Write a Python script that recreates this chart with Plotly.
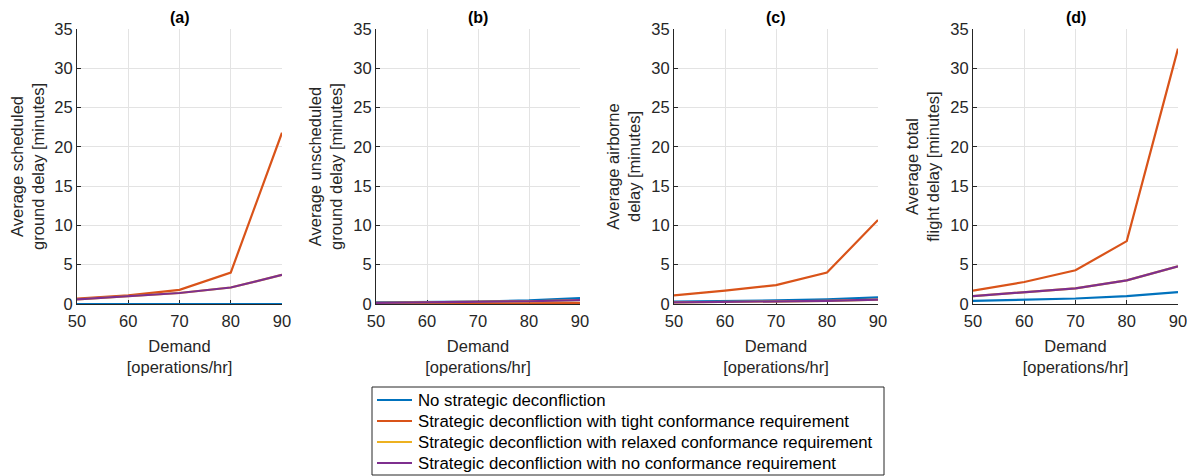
import plotly.graph_objects as go

demand = [50, 60, 70, 80, 90]
series_names = [
    "No strategic deconfliction",
    "Strategic deconfliction with tight conformance requirement",
    "Strategic deconfliction with relaxed conformance requirement",
    "Strategic deconfliction with no conformance requirement",
]
colors = ["#0072BD", "#D95319", "#EDB120", "#7E2F8E"]

# (a) scheduled ground delay
a_none = [0.0, 0.0, 0.0, 0.0, 0.0]
a_tight = [0.7, 1.1, 1.8, 4.0, 21.8]
a_relaxed = [0.6, 1.0, 1.4, 2.1, 3.7]
a_noconf = [0.6, 1.0, 1.4, 2.1, 3.7]
# (b) unscheduled ground delay
b_none = [0.2, 0.25, 0.3, 0.45, 0.75]
b_tight = [0.05, 0.05, 0.05, 0.1, 0.1]
b_relaxed = [0.15, 0.2, 0.25, 0.35, 0.5]
b_noconf = [0.15, 0.2, 0.25, 0.35, 0.5]
# (c) airborne delay
c_none = [0.3, 0.35, 0.45, 0.6, 0.85]
c_tight = [1.1, 1.7, 2.4, 4.0, 10.7]
c_relaxed = [0.2, 0.25, 0.3, 0.4, 0.55]
c_noconf = [0.2, 0.25, 0.3, 0.4, 0.55]
# (d) total flight delay
d_none = [0.4, 0.55, 0.7, 1.0, 1.5]
d_tight = [1.7, 2.8, 4.3, 8.0, 32.5]
d_relaxed = [1.0, 1.5, 2.0, 3.0, 4.8]
d_noconf = [1.0, 1.5, 2.0, 3.0, 4.8]

panel_titles = ["(a)", "(b)", "(c)", "(d)"]
y_titles = [
    "Average scheduled<br>ground delay [minutes]",
    "Average unscheduled<br>ground delay [minutes]",
    "Average airborne<br>delay [minutes]",
    "Average total<br>flight delay [minutes]",
]
x_title = "Demand<br>[operations/hr]"
x_ticks = [50, 60, 70, 80, 90]
y_ticks = [0, 5, 10, 15, 20, 25, 30, 35]

panels = [
    [a_none, a_tight, a_relaxed, a_noconf],
    [b_none, b_tight, b_relaxed, b_noconf],
    [c_none, c_tight, c_relaxed, c_noconf],
    [d_none, d_tight, d_relaxed, d_noconf],
]

# page body has an 8px margin; work in window pixels then shift
OFF = 8
W, H = 1195 - OFF, 476 - OFF
x_px = [(77, 282), (376, 580), (674, 878), (973, 1178)]
y_px = (29, 304)


def px(x):
    return (x - OFF) / W


def py(y):
    return 1 - (y - OFF) / H


FONT = "Liberation Sans, Arial, Helvetica, sans-serif"
fig = go.Figure()
layout = dict(
    width=W, height=H,
    margin=dict(l=0, r=0, t=0, b=0, autoexpand=False),
    paper_bgcolor="white", plot_bgcolor="white",
    font=dict(family=FONT, color="#262626", size=16),
    showlegend=False,
)
annotations = []
shapes = []
for i, data in enumerate(panels):
    xa = "x" if i == 0 else f"x{i+1}"
    ya = "y" if i == 0 else f"y{i+1}"
    for j, vals in enumerate(data):
        fig.add_trace(go.Scatter(
            x=demand, y=vals, mode="lines",
            line=dict(color=colors[j], width=2.2),
            name=series_names[j], legendgroup=series_names[j],
            showlegend=False, xaxis=xa, yaxis=ya, cliponaxis=False,
        ))
    x0, x1 = x_px[i]
    key_x = "xaxis" if i == 0 else f"xaxis{i+1}"
    key_y = "yaxis" if i == 0 else f"yaxis{i+1}"
    layout[key_x] = dict(
        domain=[px(x0), px(x1)], anchor=ya, range=[50, 90],
        tickvals=x_ticks, showgrid=True, gridcolor="#e3e3e3",
        showline=True, linecolor="#262626", linewidth=1,
        ticks="inside", ticklen=4, tickcolor="#262626",
        tickfont=dict(size=16.5), zeroline=False, automargin=False,
        ticklabelstandoff=2, layer="below traces",
        title=dict(text=x_title, font=dict(size=16.5), standoff=11),
    )
    layout[key_y] = dict(
        domain=[py(y_px[1]), py(y_px[0])], anchor=xa, range=[0, 35],
        tickvals=y_ticks, showgrid=True, gridcolor="#e3e3e3",
        showline=True, linecolor="#262626", linewidth=1,
        ticks="inside", ticklen=4, tickcolor="#262626",
        tickfont=dict(size=16.5), zeroline=False, automargin=False,
        layer="below traces",
        title=dict(text=y_titles[i], font=dict(size=16.5), standoff=6),
    )
    annotations.append(dict(
        text="<b>" + panel_titles[i] + "</b>", x=px((x0 + x1) / 2), y=py(17),
        xref="paper", yref="paper", showarrow=False,
        font=dict(size=16, color="black"), xanchor="center", yanchor="middle",
    ))

# legend box drawn in paper coordinates
leg_box = (372, 387, 884, 475)
leg_rows = [400, 421, 442, 463]
shapes.append(dict(
    type="rect", xref="paper", yref="paper",
    x0=px(leg_box[0]), x1=px(leg_box[2]), y0=py(leg_box[3]), y1=py(leg_box[1]),
    line=dict(color="#262626", width=1), fillcolor="white", layer="above",
))
for j, name in enumerate(series_names):
    shapes.append(dict(
        type="line", xref="paper", yref="paper",
        x0=px(377), x1=px(412), y0=py(leg_rows[j]), y1=py(leg_rows[j]),
        line=dict(color=colors[j], width=2.2), layer="above",
    ))
    annotations.append(dict(
        text=name, x=px(416), y=py(leg_rows[j]), xref="paper", yref="paper",
        showarrow=False, xanchor="left", yanchor="middle",
        font=dict(size=16.8, color="black"),
    ))

layout["annotations"] = annotations
layout["shapes"] = shapes
fig.update_layout(**layout)
fig.write_html("out.html")
